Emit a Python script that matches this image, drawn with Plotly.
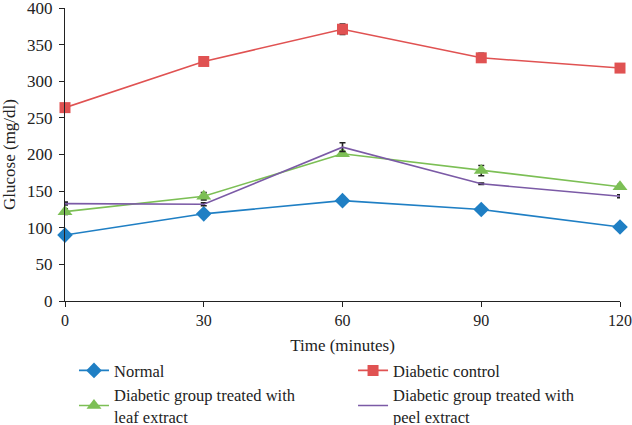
import plotly.graph_objects as go

time_min = [0, 30, 60, 90, 120]
normal = [90, 119, 137, 125, 101]
normal_err = [3, 4, 4, 3, 3]
control = [264, 327, 371, 332, 318]
control_err = [4, 3, 7, 6, 3]
leaf = [122, 143, 201, 178, 156]
leaf_err = [4, 5, 3, 7, 3]
peel = [133, 132, 210, 160, 143]
peel_err = [2, 2, 6, 1, 2]

names = ["Normal", "Diabetic control",
         "Diabetic group treated with<br>leaf extract",
         "Diabetic group treated with<br>peel extract"]
colors = ["#1f7fc4", "#e05252", "#7cbf55", "#7b5aa6"]
symbols = ["diamond", "square", "triangle-up", None]
sizes = [12, 11, 13, 0]
legend_ids = ["legend", "legend2", "legend", "legend2"]
series = [normal, control, leaf, peel]
errs = [normal_err, control_err, leaf_err, peel_err]

fig = go.Figure()
for nm, c, s, sz, lg, y, e in zip(names, colors, symbols, sizes, legend_ids, series, errs):
    mode = "lines+markers" if s else "lines"
    marker = dict(color=c, size=sz, symbol=s) if s else None
    fig.add_trace(go.Scatter(
        x=time_min, y=y, name=nm, mode=mode, legend=lg,
        line=dict(color=c, width=1.6),
        marker=marker,
        error_y=dict(type="data", array=e, color="#222222", thickness=1.6, width=3),
        cliponaxis=False,
    ))

font_fam = "Liberation Serif, Times New Roman, serif"
leg_common = dict(orientation="v", xanchor="left", y=-0.178, yanchor="top",
                  traceorder="normal", font=dict(size=16.5), itemwidth=30,
                  bgcolor="rgba(0,0,0,0)")
fig.update_layout(
    width=632, height=425,
    margin=dict(l=65, r=12, t=8, b=124, autoexpand=False),
    plot_bgcolor="white", paper_bgcolor="white",
    font=dict(family=font_fam, size=17, color="#222222"),
    showlegend=True,
    legend=dict(x=0.0162, **leg_common),
    legend2=dict(x=0.519, **leg_common),
    xaxis=dict(range=[0, 120], tickvals=time_min, showline=True, linecolor="#222222",
               linewidth=1.2, ticks="outside", ticklen=5, tickcolor="#222222",
               showgrid=False, zeroline=False, automargin=False,
               ticklabeloverflow="allow", tickfont=dict(size=16),
               title=dict(text="Time (minutes)", font=dict(size=17), standoff=10)),
    yaxis=dict(range=[0, 400], dtick=50, showline=True, linecolor="#222222",
               linewidth=1.2, ticks="outside", ticklen=5, tickcolor="#222222",
               showgrid=False, zeroline=False, automargin=False,
               ticklabeloverflow="allow", tickfont=dict(size=17), ticklabelstandoff=3,
               title=dict(text="Glucose (mg/dl)", font=dict(size=17), standoff=12)),
)
fig.write_html("out.html", config={"displayModeBar": False},
               post_script="document.body.style.margin='0';")
